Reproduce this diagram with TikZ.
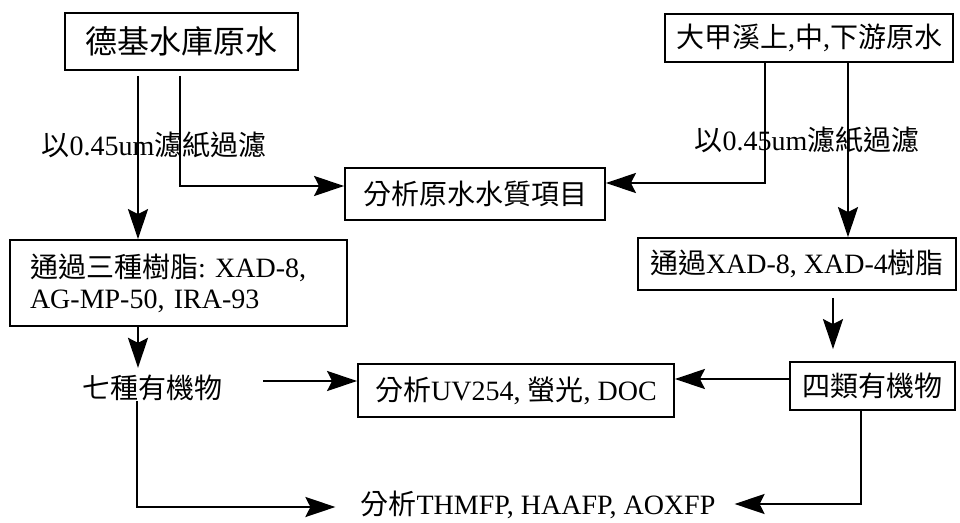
\documentclass[tikz,border=0pt]{standalone}
\usepackage{fontspec}
\setmainfont{Liberation Serif}
\newfontfamily\cjk{Noto Sans CJK TC}
\newcommand\zh[1]{{\cjk #1}}
\usetikzlibrary{arrows.meta}
\frenchspacing
\begin{document}
\begin{tikzpicture}[x=1pt,y=-1pt,
  box/.style={draw, line width=1.8pt, inner sep=0pt, align=center},
  plain/.style={inner sep=0pt},
  conn/.style={line width=2.4pt},
  arr/.style={conn, -{Stealth[length=30pt,width=20pt,inset=5pt]}},
  font=\fontsize{28}{31}\selectfont]
\useasboundingbox (0,0) rectangle (960,522);

\node[box, minimum width=233pt, minimum height=57pt, font=\fontsize{32}{36}\selectfont] (A) at (181.5,41.5) {\zh{德基水庫原水}};
\node[box, minimum width=288pt, minimum height=48pt] (B) at (809,38) {\zh{大甲溪上},\zh{中},\zh{下游原水}};
\node[box, minimum width=260pt, minimum height=52pt] (C) at (475,194) {\zh{分析原水水質項目}};
\node[box, minimum width=337pt, minimum height=86pt, text width=297pt, align=left] (D) at (178.5,283) {\zh{通過三種樹脂}: XAD-8,\\AG-MP-50, IRA-93};
\node[box, minimum width=318pt, minimum height=52pt] (E) at (797,264) {\zh{通過}XAD-8, XAD-4\zh{樹脂}};
\node[plain] (F) at (152,388) {\zh{七種有機物}};
\node[box, minimum width=316pt, minimum height=53pt] (G) at (516,390.5) {\zh{分析}UV254, \zh{螢光}, DOC};
\node[box, minimum width=165pt, minimum height=48pt] (H) at (872.5,386) {\zh{四類有機物}};
\node[plain] (I) at (538,505) {\zh{分析}THMFP, HAAFP, AOXFP};
\node[plain] (L1) at (154,145) {\zh{以}0.45um\zh{濾紙過濾}};
\node[plain] (L2) at (807,140) {\zh{以}0.45um\zh{濾紙過濾}};

\coordinate (x1) at (138,0);
\coordinate (x2) at (180,186);
\coordinate (x3) at (765,183);
\coordinate (x4) at (848,0);
\coordinate (x5) at (833,0);
\coordinate (x6) at (137,507);
\coordinate (x7) at (861,504);
\coordinate (y6) at (263,381);
\coordinate (y7) at (0,379);

\draw[arr, shorten <=5pt] (A.south -| x1) -- (D.north -| x1);
\draw[arr, shorten <=5pt] (A.south -| x2) -- (x2) -- (C.west |- x2);
\draw[arr] (B.south -| x3) -- (x3) -- (C.east |- x3);
\draw[arr] (B.south -| x4) -- (E.north -| x4);
\draw[arr, shorten >=7pt] (D.south -| x1) -- (F.north -| x1);
\draw[arr] (y6) -- (G.west |- y6);
\draw[arr] (H.west |- y7) -- (G.east |- y7);
\draw[arr, shorten <=7pt, shorten >=12pt] (E.south -| x5) -- (H.north -| x5);
\draw[arr, shorten >=25pt] (F.south -| x6) -- (x6) -- (I.west |- x6);
\draw[arr, shorten >=19pt] (H.south -| x7) -- (x7) -- (I.east |- x7);
\end{tikzpicture}
\end{document}
